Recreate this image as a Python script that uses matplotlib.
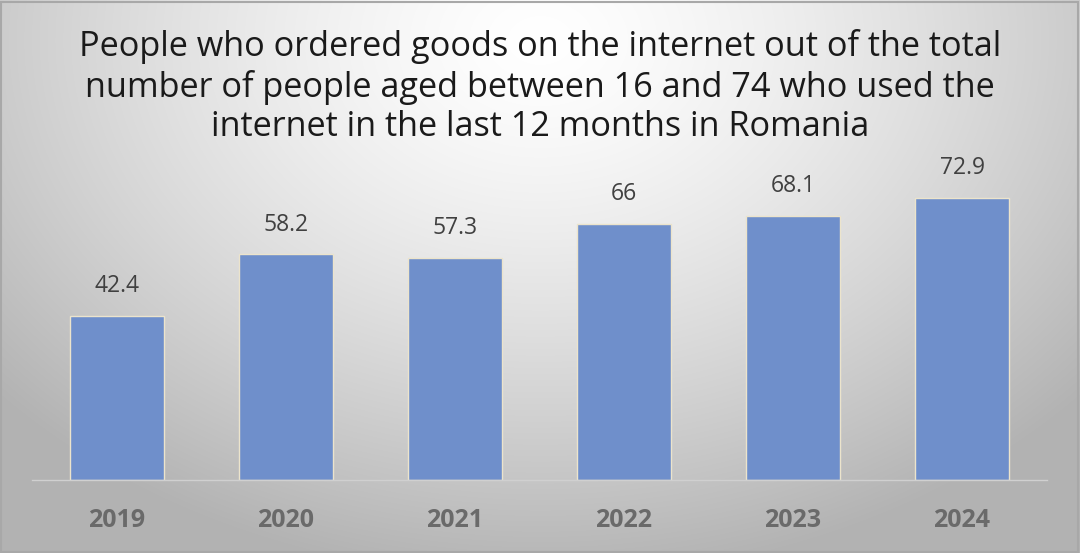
import numpy as np
import matplotlib
matplotlib.use("Agg")
import matplotlib.pyplot as plt

years = ["2019", "2020", "2021", "2022", "2023", "2024"]
values = [42.4, 58.2, 57.3, 66, 68.1, 72.9]
labels = ["42.4", "58.2", "57.3", "66", "68.1", "72.9"]
title = ("People who ordered goods on the internet out of the total\n"
         "number of people aged between 16 and 74 who used the\n"
         "internet in the last 12 months in Romania")

plt.rcParams['font.family'] = ['Open Sans', 'DejaVu Sans']

fig = plt.figure(figsize=(10.8, 5.53), dpi=100)

# background gradient
bg = fig.add_axes([0, 0, 1, 1], zorder=0)
H, W = 553, 1080
yy, xx = np.mgrid[0:H, 0:W]
d = np.sqrt(((xx - 540) / 720.0) ** 2 + ((yy - 40) / 540.0) ** 2)
d = np.clip(d, 0, 1)
g = 1.0 - 0.30 * d ** 1.4
img = np.dstack([g, g, g])
bg.imshow(img, extent=[0, 1, 0, 1], aspect='auto', origin='upper')
bg.set_xlim(0, 1); bg.set_ylim(0, 1)
bg.axis('off')
bg.add_patch(plt.Rectangle((0.001, 0.002), 0.997, 0.995, fill=False,
                           edgecolor='#a8a8a8', linewidth=1.5,
                           transform=bg.transAxes))

ax = fig.add_axes([0.030, 0.132, 0.939, 0.5606], zorder=1)
ax.patch.set_alpha(0)
x = np.arange(len(years))
ax.bar(x, values, width=0.56, color='#6f8fcb', edgecolor='#ece4cc', linewidth=1.0)
for xi, v, lab in zip(x, values, labels):
    ax.text(xi, v + 4.6, lab, ha='center', va='bottom', fontsize=16.5,
            color='#404040')
ax.set_xlim(-0.5, len(years) - 0.5)
ax.set_ylim(0, 80)
ax.set_xticks(x)
ax.set_xticklabels(years, fontsize=18, color='#6a6a6a', fontweight='bold')
ax.tick_params(axis='x', length=0, pad=20)
ax.set_yticks([])
for s in ['top', 'right', 'left']:
    ax.spines[s].set_visible(False)
ax.spines['bottom'].set_color('#d0d0d0')
ax.spines['bottom'].set_linewidth(1)

fig.text(0.5, 0.948, title, ha='center', va='top', fontsize=24.7,
         color='#1a1a1a', linespacing=1.22)

fig.savefig("out.png", dpi=100)
